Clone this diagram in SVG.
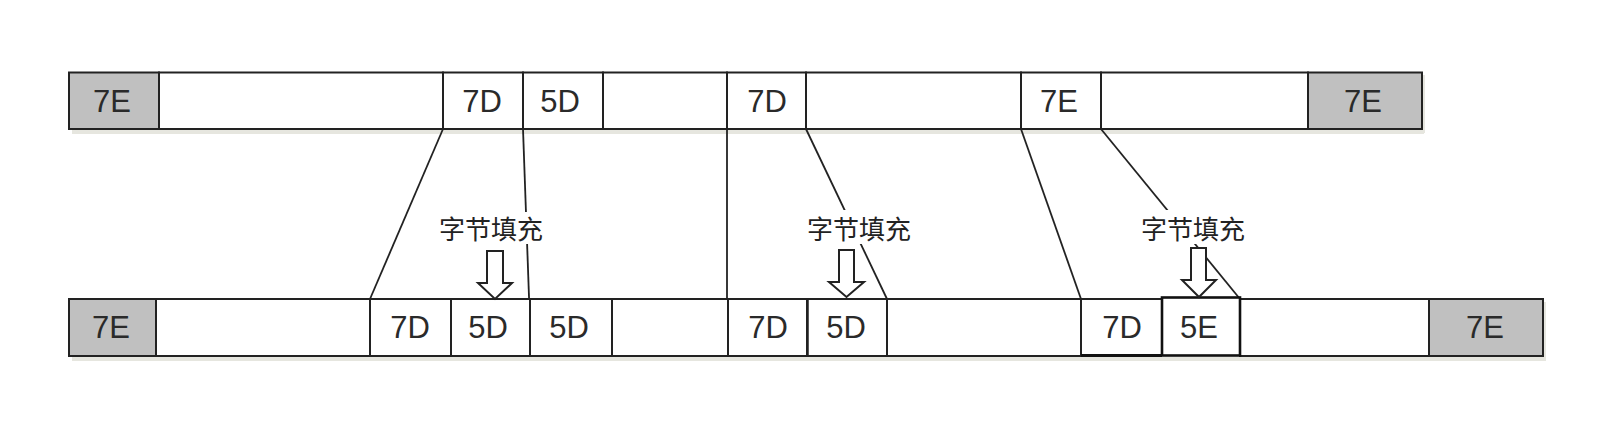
<svg xmlns="http://www.w3.org/2000/svg" width="1606" height="428" viewBox="0 0 1606 428">
<style>
  .cell { fill: #ffffff; stroke: #222222; stroke-width: 2; }
  .gray { fill: #c0c0c0; }
  .lbl { font-family: "Liberation Sans", Arial, sans-serif; font-size: 31px; fill: #2a2a2a; text-anchor: middle; }
  .cn { font-family: "Noto Sans CJK SC", "Noto Sans", sans-serif; font-size: 26px; fill: #222222; text-anchor: middle; }
  .conn { stroke: #222222; stroke-width: 1.8; fill: none; }
  .arrow { fill: #ffffff; stroke: #222222; stroke-width: 2; stroke-linejoin: miter; }
  .shadow { fill: #e6e6df; }
</style>
<rect width="1606" height="428" fill="#ffffff"/>
<!-- shadows -->
<rect class="shadow" x="72" y="130" width="1352" height="4"/>
<rect class="shadow" x="1422" y="75" width="3" height="58"/>
<rect class="shadow" x="72" y="357" width="1474" height="4"/>
<rect class="shadow" x="1543" y="302" width="3" height="58"/>

<!-- connectors (drawn under labels) -->
<g id="connectors">
  <line class="conn" x1="443" y1="129" x2="370" y2="299"/>
  <line class="conn" x1="523" y1="129" x2="530" y2="325"/>
  <line class="conn" x1="727" y1="129" x2="727" y2="299"/>
  <line class="conn" x1="806" y1="129" x2="887" y2="299"/>
  <line class="conn" x1="1021" y1="129" x2="1081" y2="299"/>
  <line class="conn" x1="1101" y1="129" x2="1240" y2="299"/>
</g>

<!-- top row -->
<g id="top-7E-start"><rect class="cell gray" x="69" y="72.5" width="90" height="56.5"/><text class="lbl" x="112" y="112">7E</text></g>
<g id="top-data-1"><rect class="cell" x="159" y="72.5" width="284" height="56.5"/></g>
<g id="top-7D-1"><rect class="cell" x="443" y="72.5" width="80" height="56.5"/><text class="lbl" x="482" y="112">7D</text></g>
<g id="top-5D-1"><rect class="cell" x="523" y="72.5" width="80" height="56.5"/><text class="lbl" x="560" y="112">5D</text></g>
<g id="top-data-2"><rect class="cell" x="603" y="72.5" width="124" height="56.5"/></g>
<g id="top-7D-2"><rect class="cell" x="727" y="72.5" width="79" height="56.5"/><text class="lbl" x="767" y="112">7D</text></g>
<g id="top-data-3"><rect class="cell" x="806" y="72.5" width="215" height="56.5"/></g>
<g id="top-7E-mid"><rect class="cell" x="1021" y="72.5" width="80" height="56.5"/><text class="lbl" x="1059" y="112">7E</text></g>
<g id="top-data-4"><rect class="cell" x="1101" y="72.5" width="207" height="56.5"/></g>
<g id="top-7E-end"><rect class="cell gray" x="1308" y="72.5" width="114" height="56.5"/><text class="lbl" x="1363" y="112">7E</text></g>

<!-- bottom row -->
<g id="bot-7E-start"><rect class="cell gray" x="69" y="299" width="87" height="57"/><text class="lbl" x="111" y="338">7E</text></g>
<g id="bot-data-1"><rect class="cell" x="156" y="299" width="214" height="57"/></g>
<g id="bot-7D-1"><rect class="cell" x="370" y="299" width="81" height="57"/><text class="lbl" x="410" y="338">7D</text></g>
<g id="bot-5D-1"><rect class="cell" x="451" y="299" width="79" height="57"/><text class="lbl" x="488" y="338">5D</text></g>
<g id="bot-5D-2"><rect class="cell" x="530" y="299" width="82" height="57"/><text class="lbl" x="569" y="338">5D</text></g>
<g id="bot-data-2"><rect class="cell" x="612" y="299" width="116" height="57"/></g>
<g id="bot-7D-2"><rect class="cell" x="728" y="299" width="79" height="57"/><text class="lbl" x="768" y="338">7D</text></g>
<g id="bot-5D-3"><rect class="cell" x="807" y="299" width="80" height="57" style="stroke-width:2"/><line x1="808" y1="299" x2="808" y2="356" stroke="#222" stroke-width="1.5"/><text class="lbl" x="846" y="338">5D</text></g>
<g id="bot-data-3"><rect class="cell" x="887" y="299" width="194" height="57"/></g>
<g id="bot-7D-3"><rect class="cell" x="1081" y="299" width="81" height="56" style="stroke-width:2"/><line x1="1081" y1="355.5" x2="1162" y2="355.5" stroke="#111" stroke-width="3"/><text class="lbl" x="1122" y="338">7D</text></g>
<g id="bot-data-4"><rect class="cell" x="1240" y="299" width="189" height="57"/></g>
<g id="bot-5E"><rect class="cell" x="1162" y="297.5" width="78" height="58" style="stroke-width:2.6;stroke:#111"/><text class="lbl" x="1199" y="338">5E</text></g>
<g id="bot-7E-end"><rect class="cell gray" x="1429" y="299" width="114" height="57"/><text class="lbl" x="1485" y="338">7E</text></g>

<!-- labels with white backing -->
<g id="label-1"><rect x="436" y="212" width="112" height="32" fill="#ffffff"/><text class="cn" x="491" y="239">字节填充</text></g>
<g id="label-2"><rect x="802" y="210" width="114" height="34" fill="#ffffff"/><text class="cn" x="859" y="239">字节填充</text></g>
<g id="label-3"><rect x="1137" y="210" width="112" height="34" fill="#ffffff"/><text class="cn" x="1193" y="239">字节填充</text></g>

<!-- hollow arrows -->
<g id="arrow-1"><polygon class="arrow" points="487,251 503,251 503,283 512,283 495,299 478,283 487,283"/></g>
<g id="arrow-2"><polygon class="arrow" points="839,250 854,250 854,282 864,282 846.5,297 829,282 839,282"/></g>
<g id="arrow-3"><polygon class="arrow" points="1191,248 1206,248 1206,280 1216,280 1199,297 1182,280 1191,280"/></g>
</svg>
